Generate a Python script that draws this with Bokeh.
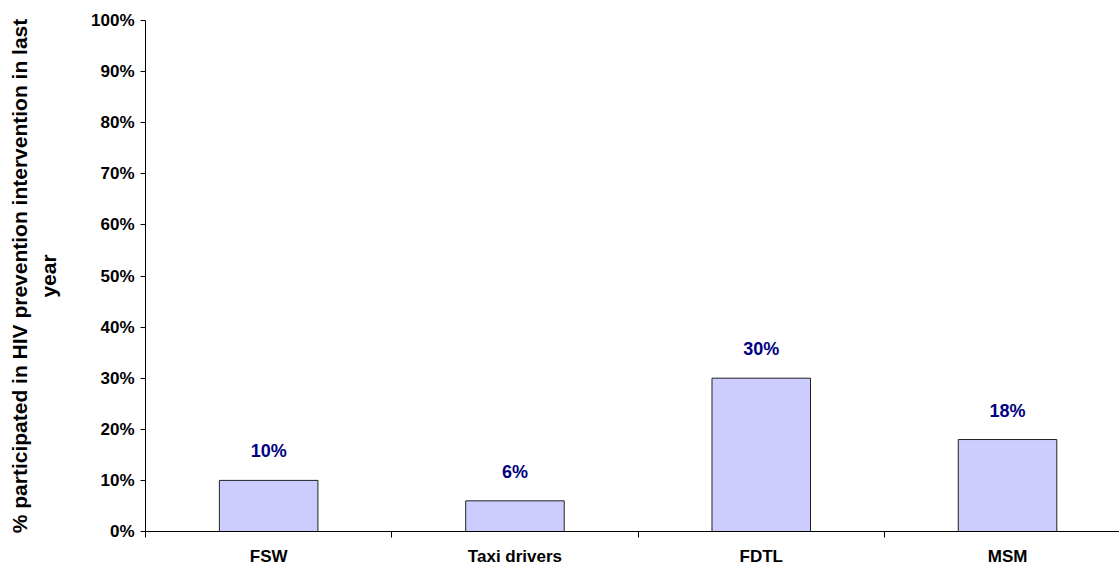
from bokeh.plotting import figure
from bokeh.models import ColumnDataSource, FixedTicker, PrintfTickFormatter, LabelSet, Range1d
from bokeh.core.properties import value
from bokeh.embed import file_html
from bokeh.resources import INLINE

categories = ["FSW", "Taxi drivers", "FDTL", "MSM"]
values = [10, 6, 30, 18]
value_labels = ["10%", "6%", "30%", "18%"]
y_ticks = list(range(0, 101, 10))

FONT = "Liberation Sans"
positions = list(range(len(categories)))
src = ColumnDataSource(dict(x=positions, top=values, lab=value_labels))

frame_w = 974
cat_px = 246.3
p = figure(frame_width=frame_w, frame_height=511, output_backend="svg", toolbar_location=None,
           x_range=Range1d(-0.5, -0.5 + frame_w / cat_px), y_range=Range1d(0, 100),
           min_border_left=145, min_border_top=20, min_border_right=0, min_border_bottom=0)
p.outline_line_color = None
p.xgrid.visible = False
p.ygrid.visible = False
p.background_fill_color = "white"
p.border_fill_color = "white"

p.vbar(x="x", top="top", width=0.4, bottom=0, source=src,
       fill_color="#CCCCFF", line_color="#222222", line_width=1)

labels = LabelSet(x="x", y="top", text="lab", source=src, y_offset=23,
                  text_align="center", text_baseline="alphabetic",
                  text_color="#000080", text_font=value(FONT), text_font_style="bold",
                  text_font_size="18px")
p.add_layout(labels)

# y axis
p.yaxis.ticker = FixedTicker(ticks=y_ticks)
p.yaxis.formatter = PrintfTickFormatter(format="%d%%")
p.yaxis.major_tick_out = 5
p.yaxis.major_tick_in = 0
p.yaxis.minor_tick_out = 0
p.yaxis.minor_tick_in = 0
p.yaxis.major_label_standoff = 6
p.yaxis.major_label_text_font = FONT
p.yaxis.major_label_text_font_style = "bold"
p.yaxis.major_label_text_font_size = "17px"
p.yaxis.major_label_text_color = "black"
p.yaxis.axis_line_color = "black"
p.yaxis.major_tick_line_color = "black"
p.yaxis.axis_label = "% participated in HIV prevention intervention in last\nyear"
p.yaxis.axis_label_text_font = FONT
p.yaxis.axis_label_text_font_style = "bold"
p.yaxis.axis_label_text_font_size = "21px"
p.yaxis.axis_label_text_line_height = 1.25
p.yaxis.axis_label_text_color = "black"
p.yaxis.axis_label_standoff = 28

# x axis: labels at category centers, tick marks at boundaries
p.xaxis.ticker = FixedTicker(ticks=positions,
                             minor_ticks=[i - 0.5 for i in range(len(categories) + 1)])
p.xaxis.major_label_overrides = {i: c for i, c in zip(positions, categories)}
p.xaxis.major_tick_out = 0
p.xaxis.major_tick_in = 0
p.xaxis.minor_tick_out = 6
p.xaxis.minor_tick_in = 0
p.xaxis.minor_tick_line_color = "black"
p.xaxis.axis_line_color = "black"
p.xaxis.major_label_standoff = 9
p.xaxis.major_label_text_font = FONT
p.xaxis.major_label_text_font_style = "bold"
p.xaxis.major_label_text_font_size = "17px"
p.xaxis.major_label_text_color = "black"

open("out.html", "w").write(file_html(p, INLINE))
